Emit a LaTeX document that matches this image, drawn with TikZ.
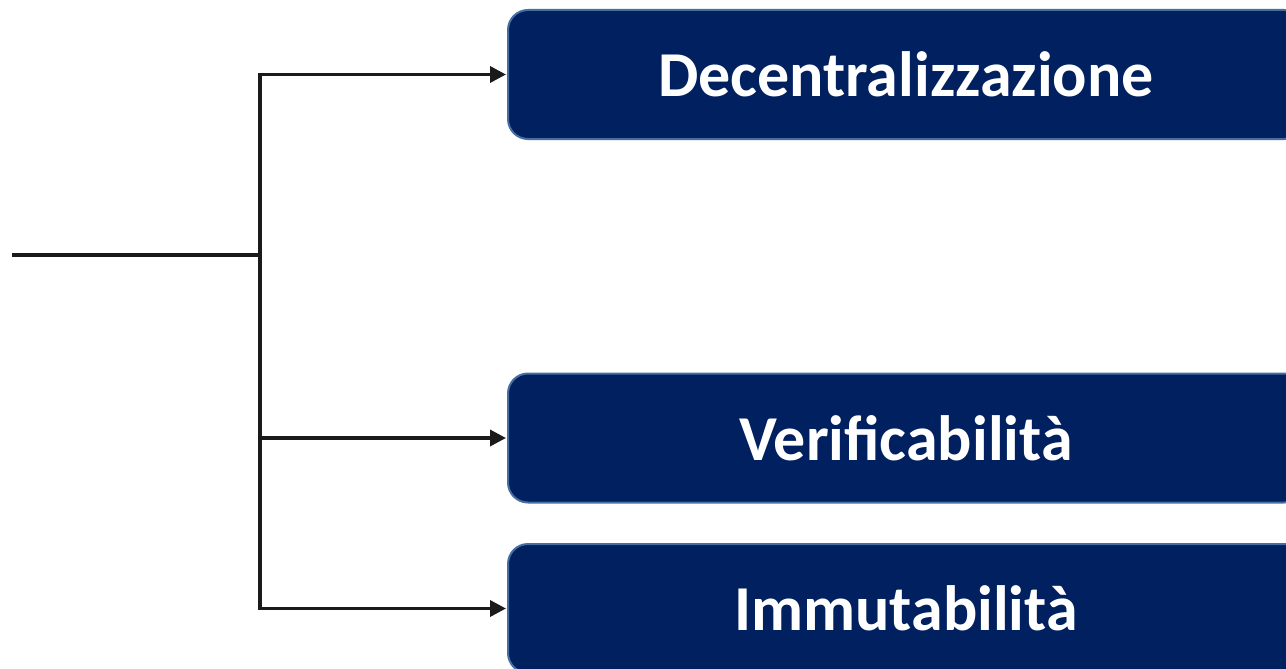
\documentclass[tikz,border=0pt]{standalone}
\usepackage{fontspec}
\setmainfont{Carlito}
\usetikzlibrary{positioning, arrows.meta}

\definecolor{boxnavy}{RGB}{0,32,96}
\definecolor{boxrim}{RGB}{70,110,160}
\definecolor{linkblack}{RGB}{26,26,26}

\begin{document}
\begin{tikzpicture}[x=1pt, y=-1pt,
    prop/.style={rectangle, rounded corners=20pt, fill=boxnavy, draw=boxrim, line width=2pt,
      minimum width=796pt, minimum height=129pt, inner sep=0pt,
      text=white, font=\fontsize{64}{70}\selectfont\bfseries},
    link/.style={draw=linkblack, line width=3.5pt},
    arr/.style={link, -{Triangle[length=16pt, width=16pt]}, shorten >=1pt}]
    % Frame
    \clip (0,0) rectangle (1286,669);
    \useasboundingbox (0,0) rectangle (1286,669);

    % Property boxes
    \node[prop] (dec) at (906,74.5) {\raisebox{-2pt}{Decentralizzazione}};
    \node[prop] (ver) at (906,438) {\raisebox{-2pt}{Verificabilità}};
    \node[prop] (imm) at (906,608.5) {\raisebox{-2pt}{Immutabilità}};

    % Incoming line and fork
    \coordinate (src) at (12,255);
    \coordinate (fork) at (260,255);
    \draw[link] (src) -- (fork);
    \draw[link, line cap=rect] (fork |- dec.west) -- (fork |- imm.west);

    % Arrows to the boxes
    \foreach \n in {dec,ver,imm} {
      \draw[arr] (fork |- \n.west) -- (\n.west);
    }
\end{tikzpicture}
\end{document}
